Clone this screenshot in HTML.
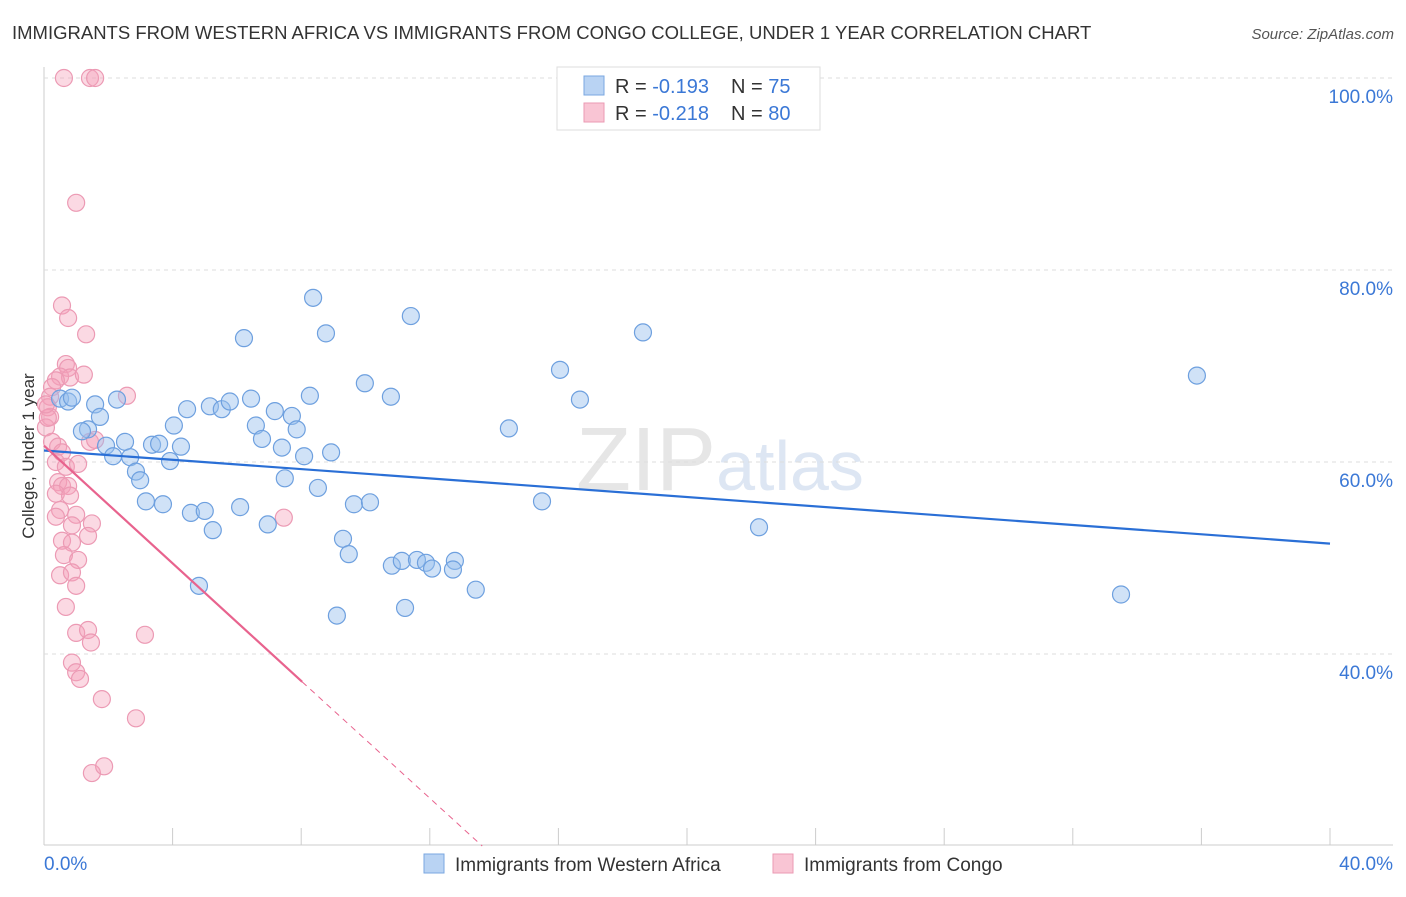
<!DOCTYPE html>
<html><head><meta charset="utf-8"><style>
body{margin:0;background:#fff;font-family:"Liberation Sans",sans-serif;}
svg text{font-family:"Liberation Sans",sans-serif;}
</style></head><body>
<svg id="c" width="1406" height="892">
<text x="12" y="39" font-size="18.5" fill="#333">IMMIGRANTS FROM WESTERN AFRICA VS IMMIGRANTS FROM CONGO COLLEGE, UNDER 1 YEAR CORRELATION CHART</text>
<text x="1394" y="39" font-size="15" fill="#555" font-style="italic" text-anchor="end">Source: ZipAtlas.com</text>
<text x="720" y="490" font-size="90" fill="#e6e6e6" text-anchor="middle" font-family="Liberation Serif">ZIP<tspan fill="#dde6f3" font-family="Liberation Sans" font-size="70">atlas</tspan></text>
<text transform="translate(34,456) rotate(-90)" font-size="17" fill="#333" text-anchor="middle">College, Under 1 year</text>
<g id="grid"></g><g id="pts"></g><g id="lines"></g>
<g>
<rect x="557" y="67" width="263" height="63" fill="#fff" stroke="#ddd"/>
<rect x="584" y="76" width="20" height="19" fill="#b9d3f3" stroke="#7aa7e0"/>
<rect x="584" y="103" width="20" height="19" fill="#f9c5d4" stroke="#eb9ab3"/>
<text x="615" y="93" font-size="20" fill="#333">R = <tspan fill="#3b78d6">-0.193</tspan></text>
<text x="731" y="93" font-size="20" fill="#333">N = <tspan fill="#3b78d6">75</tspan></text>
<text x="615" y="120" font-size="20" fill="#333">R = <tspan fill="#3b78d6">-0.218</tspan></text>
<text x="731" y="120" font-size="20" fill="#333">N = <tspan fill="#3b78d6">80</tspan></text>
</g>
<g>
<rect x="424" y="854" width="20" height="19" fill="#b9d3f3" stroke="#7aa7e0"/>
<text x="455" y="871" font-size="19" fill="#333">Immigrants from Western Africa</text>
<rect x="773" y="854" width="20" height="19" fill="#f9c5d4" stroke="#eb9ab3"/>
<text x="804" y="871" font-size="19" fill="#333">Immigrants from Congo</text>
</g>
</svg>
<script>
const yTicks=[100,80,60,40];
const xTickLabels=["0.0%","40.0%"];
const blueX=[0.5,0.75,0.87,1.59,1.74,1.37,1.18,1.93,2.27,2.52,2.15,2.68,2.86,2.99,3.17,3.7,3.36,3.58,3.92,4.04,4.26,4.45,4.57,5.0,5.25,4.82,5.16,5.53,5.78,6.22,6.44,6.1,6.59,6.78,6.96,7.18,7.71,7.86,7.49,7.4,8.09,8.37,8.27,8.77,8.52,8.93,9.3,9.48,9.11,9.64,10.14,9.98,10.79,11.41,10.82,11.13,11.23,11.6,11.88,12.07,12.78,12.72,13.43,14.46,15.49,16.05,16.67,18.63,22.24,33.5,35.86];
const blueY=[66.6,66.3,66.7,66.0,64.7,63.4,63.2,61.7,66.5,62.1,60.6,60.5,59.0,58.1,55.9,55.6,61.8,61.9,60.1,63.8,61.6,65.5,54.7,54.9,52.9,47.1,65.8,65.5,66.3,72.9,66.6,55.3,63.8,62.4,53.5,65.3,64.8,63.4,58.3,61.5,60.6,77.1,66.9,73.4,57.3,61.0,52.0,50.4,44.0,55.6,55.8,68.2,66.8,75.2,49.2,49.7,44.8,49.8,49.5,48.9,49.7,48.8,46.7,63.5,55.9,69.6,66.5,73.5,53.2,46.2,69.0];
const pinkX=[0.62,1.43,1.59,1.0,0.56,0.75,1.31,0.68,0.75,0.5,0.81,1.24,2.58,0.37,0.25,0.19,0.12,0.19,0.06,0.25,0.44,0.56,1.43,1.59,0.37,0.68,1.06,0.44,0.56,0.75,0.37,0.81,0.5,1.0,1.49,0.37,0.87,1.37,0.56,0.87,0.62,1.06,0.5,0.87,1.0,0.68,1.0,1.37,1.46,3.14,0.87,1.0,1.12,1.8,2.86,1.49,1.87,7.46,0.12,0.06];
const pinkY=[100,100,100,87.0,76.3,75.0,73.3,70.2,69.8,68.9,68.8,69.1,66.9,68.5,67.8,66.8,65.7,64.7,63.6,62.1,61.6,61.0,62.1,62.3,60.0,59.5,59.8,57.9,57.5,57.5,56.7,56.5,55.0,54.5,53.6,54.3,53.4,52.3,51.8,51.6,50.3,49.8,48.2,48.5,47.1,44.9,42.2,42.5,41.2,42.0,39.1,38.1,37.4,35.3,33.3,27.6,28.3,54.2,64.6,66.0];
const X=v=>44+v/40*1286, Y=v=>78+(100-v)*9.6;
const ns="http://www.w3.org/2000/svg";
function mk(t,a,p){const e=document.createElementNS(ns,t);for(const k in a)e.setAttribute(k,a[k]);p.appendChild(e);return e;}
const g=document.getElementById('grid');
mk('line',{x1:44,y1:67,x2:44,y2:845,stroke:'#ccc'},g);
mk('line',{x1:44,y1:845,x2:1393,y2:845,stroke:'#ccc'},g);
yTicks.forEach(v=>{
 const l=mk('line',{x1:44,y1:Y(v),x2:1393,y2:Y(v),stroke:'#ddd','stroke-dasharray':'4,4'},g);
 
 
 const t=mk('text',{x:1393,y:Y(v)+25,'font-size':19,fill:'#3b78d6','text-anchor':'end'},g);t.textContent=v.toFixed(1)+'%';
 
 
});
for(let i=0;i<=10;i++){const l=mk('line',{x1:X(i*4),y1:828,x2:X(i*4),y2:845,stroke:'#ccc'},g);
 
 }
const t0=mk('text',{x:44,y:870,'font-size':19,fill:'#3b78d6'},g);t0.textContent=xTickLabels[0];


const t1=mk('text',{x:1393,y:870,'font-size':19,fill:'#3b78d6','text-anchor':'end'},g);t1.textContent=xTickLabels[1];


const p=document.getElementById('pts');
pinkX.forEach((x,i)=>{const c=mk('circle',{cx:X(x),cy:Y(pinkY[i]),r:8.5,fill:'rgba(244,160,186,0.4)',stroke:'#ec9ab4','stroke-width':1.2},p);
 
 });
blueX.forEach((x,i)=>{const c=mk('circle',{cx:X(x),cy:Y(blueY[i]),r:8.5,fill:'rgba(150,190,238,0.45)',stroke:'#6ea0df','stroke-width':1.2},p);
 
 });
const L=document.getElementById('lines');
const bl=mk('line',{x1:X(0),y1:Y(61.2),x2:X(40),y2:Y(51.5),stroke:'#2a6fd6','stroke-width':2.2},L);


const pl=mk('line',{x1:X(0),y1:Y(61.7),x2:X(8.03),y2:Y(37.1),stroke:'#e8638e','stroke-width':2.2},L);


const pd=mk('line',{x1:X(8.03),y1:Y(37.1),x2:X(13.63),y2:Y(20),stroke:'#e8638e','stroke-width':1,'stroke-dasharray':'6,5'},L);


</script>
</body></html>
